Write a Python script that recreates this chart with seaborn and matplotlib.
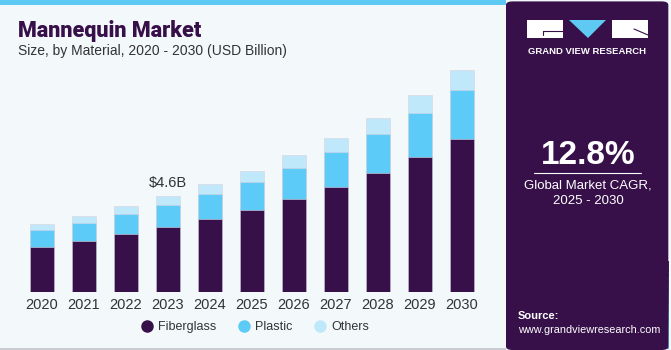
import numpy as np
import pandas as pd
import matplotlib
matplotlib.use("Agg")
import matplotlib.pyplot as plt
from matplotlib.patches import Rectangle, Polygon, FancyBboxPatch
from matplotlib.lines import Line2D
from matplotlib.colors import LinearSegmentedColormap
import seaborn as sns

years = ["2020", "2021", "2022", "2023", "2024", "2025", "2026", "2027", "2028", "2029", "2030"]
fiberglass = [2.18, 2.46, 2.77, 3.12, 3.50, 3.95, 4.47, 5.04, 5.71, 6.46, 7.32]
plastic = [0.80, 0.86, 0.96, 1.07, 1.21, 1.32, 1.48, 1.67, 1.86, 2.09, 2.34]
others = [0.29, 0.33, 0.38, 0.41, 0.46, 0.54, 0.61, 0.65, 0.75, 0.86, 0.96]
series_names = ["Fiberglass", "Plastic", "Others"]
colors = ["#37104a", "#5ccbf7", "#bfe9fa"]

BG = "#f3f8fb"
PURPLE = "#37104a"

sns.set_theme(style="white")
plt.rcParams['font.family'] = ['Liberation Sans', 'DejaVu Sans']

W, H = 671, 350
fig = plt.figure(figsize=(W / 100, H / 100), dpi=100)
fig.patch.set_facecolor(BG)

def fx(px):
    return px / W

def fy(py):
    return 1 - py / H

# top strip
fig.patches.append(Rectangle((0, fy(5)), fx(506), 5 / H, transform=fig.transFigure,
                             facecolor="#5ec9f2", edgecolor="none", zorder=0))
# bottom border line
fig.patches.append(Rectangle((0, 0), fx(506), 2 / H, transform=fig.transFigure,
                             facecolor="#c9cdd2", edgecolor="none", zorder=0))

# right panel
fig.patches.append(FancyBboxPatch((fx(506), 0), fx(W - 506) - 0.004, 0.996,
                                  boxstyle="round,pad=0,rounding_size=0.01",
                                  transform=fig.transFigure, facecolor=PURPLE,
                                  edgecolor="none", zorder=0))
# gradient at bottom of panel
gax = fig.add_axes([fx(507), 0.003, fx(W - 509), (350 - 262) / H])
grad = np.linspace(0, 1, 200).reshape(-1, 1)
cmap = LinearSegmentedColormap.from_list("g", [PURPLE, "#3d3a78", "#3f86bf", "#5ab8e6"])
gax.imshow(grad, aspect="auto", cmap=cmap, extent=[0, 1, 0, 1], origin="upper")
for i in range(12):
    y = 1 - (i / 11) ** 1.6
    gax.plot([0, 1], [y, y], color="white", alpha=0.12, lw=0.6)
for i in range(-8, 20):
    gax.plot([0.5 + (i - 6) * 0.02, 0.5 + (i - 6) * 0.12], [1, 0], color="white", alpha=0.10, lw=0.6)
gax.set_xlim(0, 1); gax.set_ylim(0, 1)
gax.axis("off")

# main chart axes
ax = fig.add_axes([fx(21), (350 - 292.3) / H, fx(462), 232.3 / H])
ax.set_facecolor(BG)
df = pd.DataFrame({"Year": years, "Fiberglass": fiberglass, "Plastic": plastic, "Others": others})
df["cum_plastic"] = df["Fiberglass"] + df["Plastic"]
df["cum_others"] = df["cum_plastic"] + df["Others"]
for col, c in [("cum_others", colors[2]), ("cum_plastic", colors[1]), ("Fiberglass", colors[0])]:
    sns.barplot(data=df, x="Year", y=col, color=c, width=0.55, ax=ax,
                edgecolor="#d9d2e0", linewidth=0.4, saturation=1)
ax.set_xlim(-0.5, 10.5)
ax.set_ylim(0, 11.10)
ax.set_xlabel(""); ax.set_ylabel("")
ax.set_yticks([])
for s in ax.spines.values():
    s.set_visible(False)
ax.tick_params(axis="x", length=0, pad=4, labelsize=10.5, labelcolor="#333333")
ax.text(3, df["cum_others"][3] + 0.3, "$4.6B", ha="center", va="bottom", fontsize=10.5, color="#333333")

# title
fig.text(fx(18), fy(37), "Mannequin Market", fontsize=15.5, fontweight="heavy", color=PURPLE,
         family=["Roboto", "DejaVu Sans"])
fig.text(fx(18), fy(55), "Size, by Material, 2020 - 2030 (USD Billion)", fontsize=10, color="#333333")

# legend
handles = [Line2D([], [], marker="o", linestyle="none", markersize=8, markerfacecolor=c,
                  markeredgecolor=c) for c in colors]
fig.legend(handles, series_names, loc="center", bbox_to_anchor=(fx(254), fy(327)), ncol=3,
           frameon=False, fontsize=9, handletextpad=0.3, columnspacing=1.6, labelcolor="#333333",
           handlelength=1.2)

# logo
fig.patches.append(Rectangle((fx(527), fy(38)), fx(36), 18 / H, transform=fig.transFigure,
                             facecolor="white", edgecolor="none"))
fig.patches.append(Rectangle((fx(612), fy(38)), fx(36), 18 / H, transform=fig.transFigure,
                             facecolor="white", edgecolor="none"))
fig.patches.append(Polygon([(fx(569), fy(20)), (fx(606), fy(20)), (fx(588), fy(38))],
                           transform=fig.transFigure, facecolor="#5ec9f2", edgecolor="none"))
fig.lines.append(Line2D([fx(543), fx(563)], [fy(31), fy(31)], transform=fig.transFigure, color=PURPLE, lw=0.8))
fig.lines.append(Line2D([fx(543), fx(543)], [fy(31), fy(35)], transform=fig.transFigure, color=PURPLE, lw=0.8))
fig.lines.append(Line2D([fx(634), fx(648)], [fy(29), fy(35)], transform=fig.transFigure, color=PURPLE, lw=0.8))
fig.text(fx(587.5), fy(51), "GRAND VIEW RESEARCH", ha="center", va="center", fontsize=6.8,
         fontweight="bold", color="white")

# CAGR
fig.text(fx(588), fy(155), "12.8%", ha="center", va="center", fontsize=24, fontweight="bold", color="white")
fig.lines.append(Line2D([fx(534), fx(641)], [fy(173), fy(173)], transform=fig.transFigure, color="white", lw=0.8))
fig.text(fx(588), fy(185), "Global Market CAGR,", ha="center", va="center", fontsize=9.5, color="white")
fig.text(fx(588), fy(201), "2025 - 2030", ha="center", va="center", fontsize=9.5, color="white")

# source
fig.text(fx(518), fy(316), "Source:", ha="left", va="center", fontsize=8, fontweight="bold", color="white")
fig.text(fx(518), fy(330), "www.grandviewresearch.com", ha="left", va="center", fontsize=7.8, color="white")

fig.savefig("out.png", dpi=100, facecolor=BG)
